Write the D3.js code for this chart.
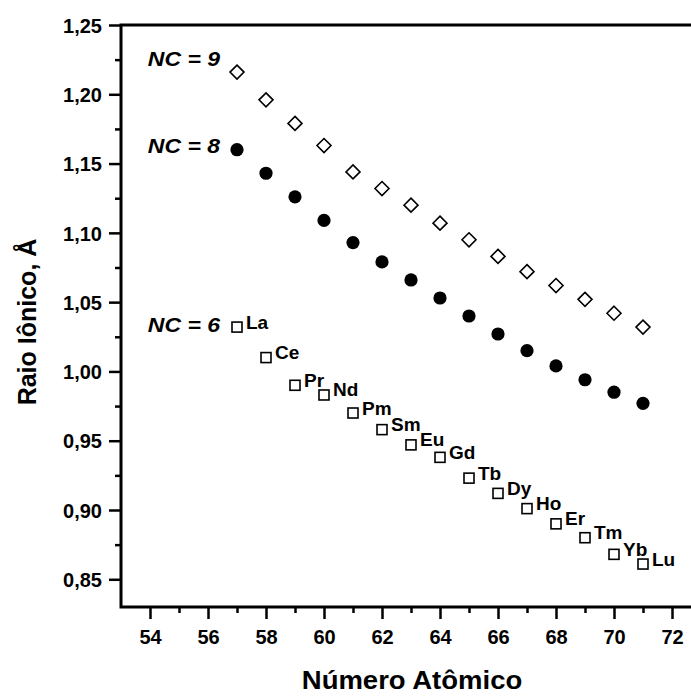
<!DOCTYPE html>
<html>
<head>
<meta charset="utf-8">
<script src="https://cdn.jsdelivr.net/npm/d3@7"></script>
<style>
  body { margin: 0; background: #fff; }
  svg { display: block; }
  text { font-family: 'Liberation Sans', Arial, sans-serif; font-weight: bold; fill: #000; }
</style>
</head>
<body>
<div id="chart"></div>
<script>
// data: ionic radii of the lanthanides for three coordination numbers
var atomicNumber = [57, 58, 59, 60, 61, 62, 63, 64, 65, 66, 67, 68, 69, 70, 71];
var elements = ['La', 'Ce', 'Pr', 'Nd', 'Pm', 'Sm', 'Eu', 'Gd', 'Tb', 'Dy', 'Ho', 'Er', 'Tm', 'Yb', 'Lu'];
var radiusNC9 = [1.216, 1.196, 1.179, 1.163, 1.144, 1.132, 1.120, 1.107, 1.095, 1.083, 1.072, 1.062, 1.052, 1.042, 1.032];
var radiusNC8 = [1.160, 1.143, 1.126, 1.109, 1.093, 1.079, 1.066, 1.053, 1.040, 1.027, 1.015, 1.004, 0.994, 0.985, 0.977];
var radiusNC6 = [1.032, 1.010, 0.990, 0.983, 0.970, 0.958, 0.947, 0.938, 0.923, 0.912, 0.901, 0.890, 0.880, 0.868, 0.861];
var xTicks = [54, 56, 58, 60, 62, 64, 66, 68, 70, 72];
var xMinorTicks = [55, 57, 59, 61, 63, 65, 67, 69, 71, 73];
var yTicks = [0.85, 0.90, 0.95, 1.00, 1.05, 1.10, 1.15, 1.20, 1.25];
var yMinorTicks = [0.875, 0.925, 0.975, 1.025, 1.075, 1.125, 1.175, 1.225];

var W = 691, H = 696;
var margin = {top: 25, left: 121};
var width = 580, height = 582;
var sx = 1.1; // titles in the original are slightly wide

var svg = d3.select('#chart').append('svg')
    .attr('width', W)
    .attr('height', H);
var chart = svg.append('g')
    .attr('transform', 'translate(' + margin.left + ',' + margin.top + ')');

// scales
var xScale = d3.scaleLinear().domain([53, 73]).range([0, width]);
var yScale = d3.scaleLinear().domain([0.83, 1.25]).range([height, 0]);

var comma = function(d) { return d3.format('.2f')(d).replace('.', ','); };

// axes
function styleAxis(g) {
    g.select('.domain').remove();
    g.selectAll('line').style('stroke', '#000').style('stroke-width', 2.5);
}
function tickText(g) {
    g.selectAll('text')
        .style('font-size', '20px')
        .style('font-family', "'Liberation Sans', Arial, sans-serif")
        .style('font-weight', 'bold')
        .style('fill', '#000');
}
chart.append('g')
    .call(d3.axisLeft(yScale).tickValues(yMinorTicks).tickSize(6).tickFormat(''))
    .call(styleAxis);
chart.append('g')
    .call(d3.axisLeft(yScale).tickValues(yTicks).tickSize(12).tickFormat(comma))
    .call(styleAxis)
    .call(tickText)
    .call(function(g) {
        g.selectAll('text').attr('x', -19).attr('dy', '0.36em');
    });
chart.append('g').attr('transform', 'translate(0,' + height + ')')
    .call(d3.axisBottom(xScale).tickValues(xMinorTicks).tickSize(6).tickFormat(''))
    .call(styleAxis);
chart.append('g').attr('transform', 'translate(0,' + height + ')')
    .call(d3.axisBottom(xScale).tickValues(xTicks).tickSize(12))
    .call(styleAxis)
    .call(tickText)
    .call(function(g) {
        g.selectAll('text').attr('y', 37).attr('dy', 0);
    });

// frame: left, bottom, top
chart.append('path')
    .attr('d', 'M' + width + ',0H0V' + height + 'H' + width)
    .style('fill', 'none')
    .style('stroke', '#000')
    .style('stroke-width', 3);

// markers
var nc9 = atomicNumber.map(function(z, i) { return {z: z, r: radiusNC9[i]}; });
var nc8 = atomicNumber.map(function(z, i) { return {z: z, r: radiusNC8[i]}; });
var nc6 = atomicNumber.map(function(z, i) { return {z: z, r: radiusNC6[i], el: elements[i]}; });

chart.selectAll('path.nc9')
    .data(nc9)
    .enter()
    .append('path').classed('nc9', true)
    .attr('d', 'M0,-7L7,0L0,7L-7,0Z')
    .attr('transform', function(d) { return 'translate(' + xScale(d.z) + ',' + yScale(d.r) + ')'; })
    .style('fill', '#fff')
    .style('stroke', '#000')
    .style('stroke-width', 1.6);

chart.selectAll('circle.nc8')
    .data(nc8)
    .enter()
    .append('circle').classed('nc8', true)
    .attr('cx', function(d) { return xScale(d.z); })
    .attr('cy', function(d) { return yScale(d.r); })
    .attr('r', 6.6)
    .style('fill', '#000');

chart.selectAll('rect.nc6')
    .data(nc6)
    .enter()
    .append('rect').classed('nc6', true)
    .attr('x', function(d) { return xScale(d.z) - 5; })
    .attr('y', function(d) { return yScale(d.r) - 5; })
    .attr('width', 10)
    .attr('height', 10)
    .style('fill', '#fff')
    .style('stroke', '#000')
    .style('stroke-width', 1.6);

// element labels
chart.selectAll('text.el')
    .data(nc6)
    .enter()
    .append('text').classed('el', true)
    .text(function(d) { return d.el; })
    .attr('x', function(d) { return xScale(d.z) + 9; })
    .attr('y', function(d) { return yScale(d.r) + 1.5; })
    .style('font-size', '19px');

// NC labels
function ncLabel(txt, yVal) {
    chart.append('text')
        .text(txt)
        .attr('transform', 'translate(' + (xScale(57) - 17) + ',' + yScale(yVal) + ') scale(1.15,1)')
        .attr('text-anchor', 'end')
        .style('font-size', '20px')
        .style('font-style', 'italic');
}
ncLabel('NC = 9', 1.2204);
ncLabel('NC = 8', 1.1576);
ncLabel('NC = 6', 1.0283);

// axis titles
svg.append('text')
    .text('Número Atômico')
    .attr('transform', 'translate(412,689) scale(' + sx + ',1)')
    .attr('text-anchor', 'middle')
    .style('font-size', '25px');
svg.append('text')
    .text('Raio Iônico, Å')
    .attr('transform', 'translate(36,322) rotate(-90)')
    .attr('text-anchor', 'middle')
    .style('font-size', '25px');
</script>
</body>
</html>
